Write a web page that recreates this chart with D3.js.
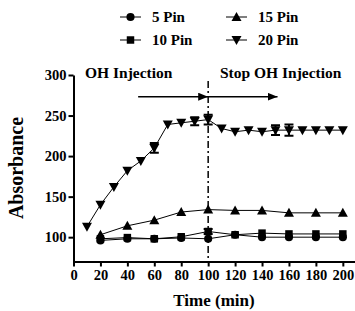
<!DOCTYPE html>
<html>
<head>
<meta charset="utf-8">
<script src="https://cdn.jsdelivr.net/npm/d3@7"></script>
<style>
  body { margin: 0; background: #fff; }
  svg { display: block; font-family: "Liberation Serif", "Times New Roman", serif; font-weight: bold; }
  .axis path, .axis line { stroke: #000; stroke-width: 2px; }
  .axis text { font-family: "Liberation Serif", serif; font-weight: bold; fill: #000; }
</style>
</head>
<body>
<div class="chart"></div>
<script>
// values
const seriesNames = ['5 Pin', '10 Pin', '15 Pin', '20 Pin'];
const timeShort = [20, 40, 60, 80, 100, 120, 140, 160, 180, 200];
const timeLong = [10, 20, 30, 40, 50, 60, 70, 80, 90, 100, 110, 120, 130, 140, 150, 160, 170, 180, 190, 200];
const pin5 = [96, 98, 98, 99, 98, 103, 100, 100, 100, 100];
const pin10 = [98, 99.5, 98, 100.5, 107, 103, 105, 104, 104, 104];
const pin15 = [103, 114, 121, 131, 134, 133, 133, 130, 130, 130];
const pin20 = [113, 140, 162, 182, 194, 210, 239, 241, 243, 245, 234, 230, 232, 230, 232, 232, 232, 232, 232, 232];
const pin10Err = [0, 0, 0, 0, 3, 0, 0, 0, 0, 0];
const pin20Err = [0, 0, 0, 0, 0, 6, 0, 0, 5, 6, 0, 0, 0, 0, 6, 7, 0, 0, 0, 0];
const xTicks = [0, 20, 40, 60, 80, 100, 120, 140, 160, 180, 200];
const yTicks = [100, 150, 200, 250, 300];

const width = 355, height = 311;
const svg = d3.select('.chart').append('svg')
    .attr('width', width)
    .attr('height', height);

const x = d3.scaleLinear().domain([0, 210]).range([73.5, 356.3]);
const y = d3.scaleLinear().domain([70, 300]).range([261.5, 75]);

// axes
svg.append('g')
    .attr('class', 'axis')
    .attr('transform', 'translate(0,' + y(70) + ')')
    .call(d3.axisBottom(x).tickValues(xTicks).tickSize(5).tickSizeOuter(0).tickPadding(3))
    .selectAll('text').style('font-size', '14.5px');

svg.append('g')
    .attr('class', 'axis')
    .attr('transform', 'translate(' + x(0) + ',0)')
    .call(d3.axisLeft(y).tickValues(yTicks).tickSize(5).tickSizeOuter(0).tickPadding(2))
    .selectAll('text').style('font-size', '14.5px');

// axis titles
svg.append('text')
    .attr('x', 214).attr('y', 306)
    .attr('text-anchor', 'middle')
    .style('font-size', '17px')
    .text('Time (min)');

svg.append('text')
    .attr('transform', 'translate(23,168) rotate(-90)')
    .attr('text-anchor', 'middle')
    .style('font-size', '20px')
    .text('Absorbance');

// injection marker line and arrows
svg.append('line')
    .attr('x1', x(100)).attr('x2', x(100))
    .attr('y1', 81).attr('y2', 258)
    .attr('stroke', '#000').attr('stroke-width', 1.5)
    .attr('stroke-dasharray', '7,3,2,3');

svg.append('defs').append('marker')
    .attr('id', 'head')
    .attr('viewBox', '0 0 10 8')
    .attr('refX', 10).attr('refY', 4)
    .attr('markerWidth', 10).attr('markerHeight', 8)
    .attr('markerUnits', 'userSpaceOnUse')
    .attr('orient', 'auto')
  .append('path')
    .attr('d', 'M0,0L10,4L0,8Z')
    .attr('fill', '#000');

[[48, 100], [100, 151.5]].forEach(function(a) {
    svg.append('line')
        .attr('x1', x(a[0])).attr('x2', x(a[1]))
        .attr('y1', 96.7).attr('y2', 96.7)
        .attr('stroke', '#000').attr('stroke-width', 1.5)
        .attr('marker-end', 'url(#head)');
});

svg.append('text')
    .attr('x', 85).attr('y', 78)
    .style('font-size', '15.5px')
    .text('OH Injection');

svg.append('text')
    .attr('x', 220).attr('y', 78)
    .style('font-size', '15.5px')
    .text('Stop OH Injection');

// marker shapes
const symbolPath = function(kind) {
    if (kind === 'circle') return d3.symbol(d3.symbolCircle, 52)();
    if (kind === 'square') return d3.symbol(d3.symbolSquare, 56)();
    if (kind === 'up') return 'M0,-5L5,4L-5,4Z';
    return 'M0,5L5,-4L-5,-4Z';
};

const series = [
    {name: '5 Pin', xs: timeShort, ys: pin5, err: null, kind: 'circle'},
    {name: '10 Pin', xs: timeShort, ys: pin10, err: pin10Err, kind: 'square'},
    {name: '15 Pin', xs: timeShort, ys: pin15, err: null, kind: 'up'},
    {name: '20 Pin', xs: timeLong, ys: pin20, err: pin20Err, kind: 'down'}
];

const line = d3.line()
    .x(function(d) { return x(d[0]); })
    .y(function(d) { return y(d[1]); });

series.forEach(function(s) {
    const pts = s.xs.map(function(t, i) { return [t, s.ys[i], s.err ? s.err[i] : 0]; });
    const g = svg.append('g');
    g.append('path')
        .attr('d', line(pts))
        .attr('fill', 'none')
        .attr('stroke', '#000')
        .attr('stroke-width', 1);
    // error bars
    pts.filter(function(d) { return d[2] > 0; }).forEach(function(d) {
        const cx = x(d[0]);
        g.append('path')
            .attr('d', 'M' + cx + ',' + y(d[1] - d[2]) + 'V' + y(d[1] + d[2]) +
                'M' + (cx - 4.5) + ',' + y(d[1] - d[2]) + 'H' + (cx + 4.5) +
                'M' + (cx - 4.5) + ',' + y(d[1] + d[2]) + 'H' + (cx + 4.5))
            .attr('stroke', '#000')
            .attr('stroke-width', 2)
            .attr('fill', 'none');
    });
    g.selectAll('path.pt')
        .data(pts)
        .enter().append('path')
        .attr('class', 'pt')
        .attr('transform', function(d) { return 'translate(' + x(d[0]) + ',' + y(d[1]) + ')'; })
        .attr('d', symbolPath(s.kind))
        .attr('fill', '#000');
});

// legend
const legendPos = [[120, 17], [120, 40], [226, 17], [226, 40]];
series.forEach(function(s, i) {
    const lx = legendPos[i][0], ly = legendPos[i][1];
    const g = svg.append('g').attr('transform', 'translate(' + lx + ',' + ly + ')');
    g.append('line')
        .attr('x1', 0).attr('x2', 21)
        .attr('stroke', '#000').attr('stroke-width', 1);
    g.append('path')
        .attr('transform', 'translate(10.5,0)')
        .attr('d', symbolPath(s.kind))
        .attr('fill', '#000');
    g.append('text')
        .attr('x', 32).attr('y', 5)
        .style('font-size', '15px')
        .text(s.name);
});
</script>
</body>
</html>
